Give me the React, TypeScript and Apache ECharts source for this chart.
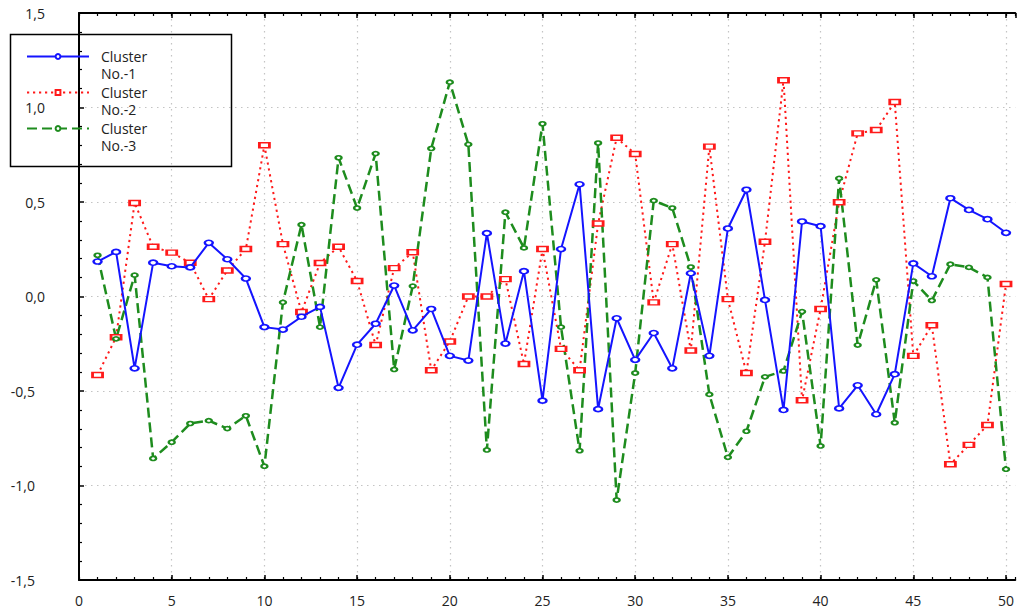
import { useEffect, useRef } from 'react';
import * as echarts from 'echarts';

const caseNumbers = [
  1, 2, 3, 4, 5, 6, 7, 8, 9, 10, 11, 12, 13, 14, 15, 16, 17, 18, 19, 20, 21, 22, 23, 24, 25,
  26, 27, 28, 29, 30, 31, 32, 33, 34, 35, 36, 37, 38, 39, 40, 41, 42, 43, 44, 45, 46, 47, 48, 49, 50,
];

const cluster1 = [
  0.185, 0.236, -0.38, 0.179, 0.16, 0.154, 0.284, 0.197, 0.095, -0.162,
  -0.175, -0.107, -0.055, -0.483, -0.255, -0.144, 0.058, -0.179, -0.066, -0.314,
  -0.339, 0.335, -0.249, 0.134, -0.551, 0.251, 0.594, -0.596, -0.115, -0.335,
  -0.193, -0.38, 0.123, -0.314, 0.36, 0.565, -0.018, -0.6, 0.397, 0.372,
  -0.592, -0.47, -0.623, -0.411, 0.175, 0.107, 0.52, 0.458, 0.409, 0.337,
];

const cluster2 = [
  -0.415, -0.216, 0.495, 0.263, 0.232, 0.179, -0.014, 0.138, 0.251, 0.8,
  0.277, -0.082, 0.177, 0.263, 0.082, -0.257, 0.15, 0.234, -0.39, -0.238,
  0.0, 0.0, 0.092, -0.357, 0.251, -0.277, -0.39, 0.386, 0.84, 0.754,
  -0.031, 0.277, -0.286, 0.793, -0.014, -0.405, 0.29, 1.144, -0.549, -0.066,
  0.499, 0.863, 0.881, 1.029, -0.314, -0.152, -0.888, -0.785, -0.68, 0.066,
];

const cluster3 = [
  0.218, -0.224, 0.113, -0.857, -0.771, -0.672, -0.657, -0.699, -0.631, -0.898,
  -0.031, 0.38, -0.162, 0.734, 0.468, 0.756, -0.386, 0.055, 0.783, 1.134,
  0.805, -0.812, 0.446, 0.257, 0.914, -0.162, -0.816, 0.812, -1.077, -0.405,
  0.507, 0.468, 0.156, -0.518, -0.851, -0.713, -0.425, -0.394, -0.08, -0.791,
  0.625, -0.257, 0.088, -0.668, 0.082, -0.021, 0.171, 0.154, 0.101, -0.914,
];

const seriesNames = ['Cluster\nNo.-1', 'Cluster\nNo.-2', 'Cluster\nNo.-3'];

const FONT = 'Open Sans';

export default function App() {
  const ref = useRef<HTMLDivElement>(null);

  useEffect(() => {
    if (!ref.current) return;
    const chart = echarts.init(ref.current, null, { renderer: 'svg' });

    const toPairs = (vals: number[]) => caseNumbers.map((x, i) => [x, vals[i]]);

    const dotted = { type: [1.5, 4.5], color: '#c4c4c4', width: 1.2 };

    const option: any = {
      animation: false,
      backgroundColor: '#ffffff',
      grid: { left: 79, right: 0, top: 13, bottom: 31, containLabel: false },
      xAxis: [
        {
          type: 'value', position: 'bottom', min: 0, max: 50.5, interval: 5,
          axisLine: { show: true, onZero: false, lineStyle: { color: '#000', width: 2 } },
          axisTick: { show: true, inside: true, length: 5, lineStyle: { color: '#000', width: 1.5 } },
          axisLabel: { margin: 13, showMaxLabel: false, fontFamily: FONT, fontSize: 14, color: '#222' },
          splitLine: { show: true, showMinLine: false, showMaxLine: false, lineStyle: dotted },
        },
        {
          type: 'value', position: 'bottom', min: 0, max: 50.5, interval: 1,
          axisLine: { show: false, onZero: false },
          axisTick: { show: true, inside: true, length: 3, lineStyle: { color: '#000', width: 1.2 } },
          axisLabel: { show: false },
          splitLine: { show: false },
        },
        {
          type: 'value', position: 'top', min: 0, max: 50.5, interval: 5,
          axisLine: { show: true, onZero: false, lineStyle: { color: '#000', width: 2 } },
          axisTick: { show: true, inside: true, length: 5, lineStyle: { color: '#000', width: 1.5 } },
          axisLabel: { show: false },
          splitLine: { show: false },
        },
        {
          type: 'value', position: 'top', min: 0, max: 50.5, interval: 1,
          axisLine: { show: false, onZero: false },
          axisTick: { show: true, inside: true, length: 3, lineStyle: { color: '#000', width: 1.2 } },
          axisLabel: { show: false },
          splitLine: { show: false },
        },
      ],
      yAxis: {
        type: 'value', min: -1.5, max: 1.5, interval: 0.5,
        axisLine: { show: true, onZero: false, lineStyle: { color: '#000', width: 2 } },
        axisTick: { show: true, inside: true, length: 5, lineStyle: { color: '#000', width: 1.5 } },
        minorTick: { show: true, splitNumber: 5, length: 3, lineStyle: { color: '#000', width: 1.2 } },
        axisLabel: {
          margin: 34,
          fontFamily: FONT, fontSize: 14, color: '#222',
          formatter: (v: number) => {
            const s = Math.abs(v).toFixed(1).replace('.', ',');
            return v < 0 ? `{n|-${s}}` : `{p|${s}}`;
          },
          rich: {
            p: { fontFamily: FONT, fontSize: 14, color: '#222' },
            n: { fontFamily: FONT, fontSize: 14, color: '#222', padding: [0, 10, 0, 0] },
          },
        },
        splitLine: { show: true, showMinLine: false, showMaxLine: false, lineStyle: dotted },
      },
      legend: {
        orient: 'vertical', left: 26, top: 31, padding: 0, itemGap: -15,
        itemWidth: 62, itemHeight: 6, selectedMode: false,
        data: seriesNames,
        formatter: (name: string) => '\n' + name,
        textStyle: { fontFamily: FONT, fontSize: 14, color: '#222', lineHeight: 17, padding: [0, 0, 0, 7] },
      },
      graphic: [
        {
          type: 'rect', silent: true, z: 100,
          shape: { x: 10.5, y: 34.5, width: 221, height: 132 },
          style: { fill: 'none', stroke: '#000', lineWidth: 1.5 },
        },
      ],
      series: [
        {
          name: seriesNames[0], type: 'line', data: toPairs(cluster1),
          symbol: 'emptyCircle', symbolSize: [8, 5],
          lineStyle: { color: '#1414ff', width: 2 },
          itemStyle: { color: '#1414ff', borderWidth: 1 },
          z: 3,
        },
        {
          name: seriesNames[1], type: 'line', data: toPairs(cluster2),
          symbol: 'emptyRect', symbolSize: [10, 5],
          lineStyle: { color: '#ff1a1a', width: 2, type: [2.2, 3.8] },
          itemStyle: { color: '#ff1a1a', borderWidth: 1 },
          z: 2,
        },
        {
          name: seriesNames[2], type: 'line', data: toPairs(cluster3),
          symbol: 'emptyCircle', symbolSize: [6, 4],
          lineStyle: { color: '#1e8c1e', width: 2.5, type: [10, 5] },
          itemStyle: { color: '#1e8c1e', borderWidth: 1 },
          z: 2,
        },
      ],
    };

    chart.setOption(option);
    return () => chart.dispose();
  }, []);

  return (
    <div
      ref={ref}
      style={{ position: 'fixed', left: 0, top: 0, width: 1017, height: 611, background: '#fff' }}
    />
  );
}
